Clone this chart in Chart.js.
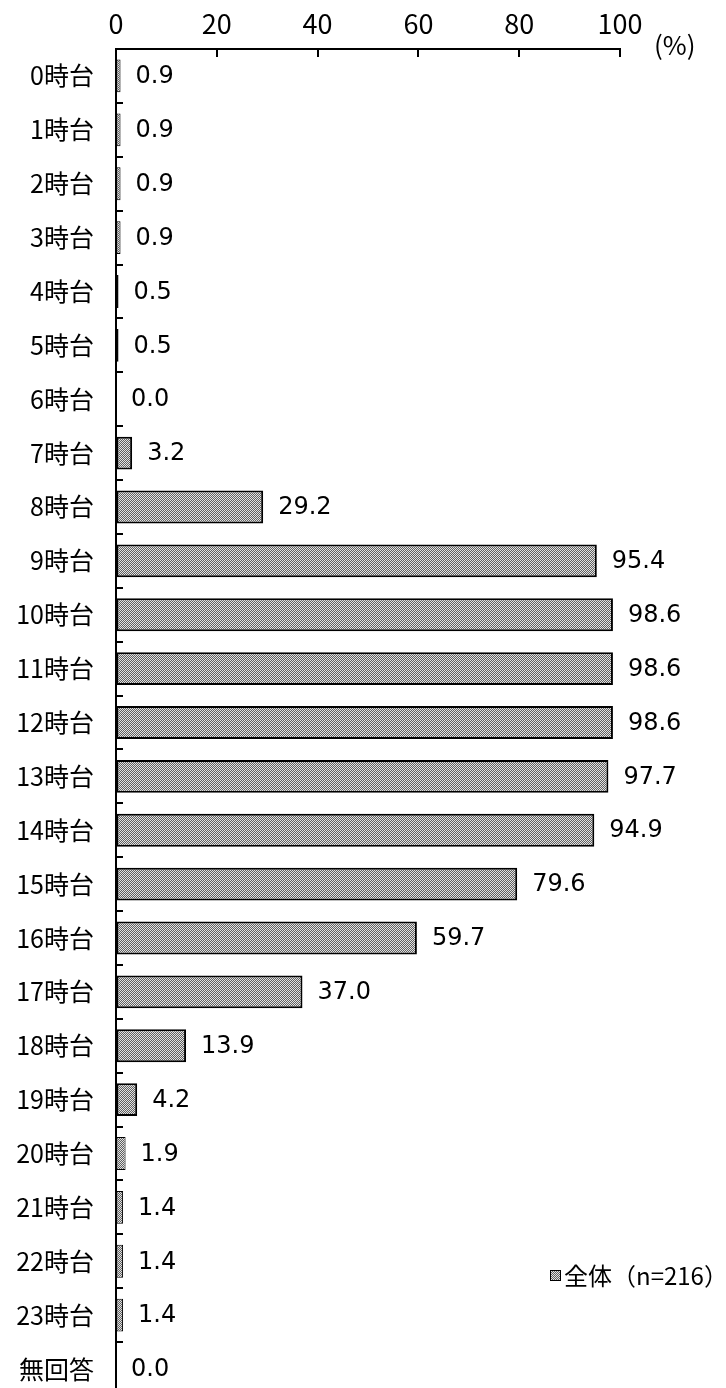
<!DOCTYPE html>
<html lang="ja">
<head>
<meta charset="utf-8">
<title>時間帯別 利用割合</title>
<script src="https://cdn.jsdelivr.net/npm/chart.js@4/dist/chart.umd.min.js"></script>
<style>
  html, body { margin: 0; padding: 0; background: #fff; overflow: hidden; }
  #wrap { width: 726px; height: 1396px; }
</style>
</head>
<body>
<div id="wrap"><canvas id="hourChart" width="726" height="1396"></canvas></div>
<script>
// categories (rows, top to bottom)
const hourLabels = ['0時台', '1時台', '2時台', '3時台', '4時台', '5時台', '6時台', '7時台',
  '8時台', '9時台', '10時台', '11時台', '12時台', '13時台', '14時台', '15時台', '16時台',
  '17時台', '18時台', '19時台', '20時台', '21時台', '22時台', '23時台', '無回答'];
// percentages
const totalValues = [0.9, 0.9, 0.9, 0.9, 0.5, 0.5, 0.0, 3.2, 29.2, 95.4, 98.6, 98.6, 98.6,
  97.7, 94.9, 79.6, 59.7, 37.0, 13.9, 4.2, 1.9, 1.4, 1.4, 1.4, 0.0];
const xTicks = [0, 20, 40, 60, 80, 100];
const seriesName = '全体（n=216）';
const unitLabel = '(%)';

const CJK = '"Noto Sans CJK JP", "Noto Sans", sans-serif';
const NUM = '"DejaVu Sans", Verdana, sans-serif';

// fine dotted fill like the printed hatch
function makeDots() {
    const c = document.createElement('canvas');
    c.width = 2; c.height = 2;
    const g = c.getContext('2d');
    g.fillStyle = '#606060'; g.fillRect(0, 0, 2, 2);
    g.fillStyle = '#e2e2e2'; g.fillRect(0, 0, 1, 1); g.fillRect(1, 1, 1, 1);
    return g.createPattern(c, 'repeat');
}
const dots = makeDots();

// short tick marks that point into the plot, plus the unit and legend
const extras = {
    id: 'extras',
    afterDraw(chart) {
        const ctx = chart.ctx;
        const x = chart.scales.x, y = chart.scales.y;
        const top = chart.chartArea.top, left = chart.chartArea.left;
        ctx.save();
        ctx.strokeStyle = '#000';
        ctx.lineWidth = 2;
        ctx.beginPath();
        xTicks.forEach(v => {
            const px = Math.round(x.getPixelForValue(v));
            ctx.moveTo(px, top); ctx.lineTo(px, top + 8);
        });
        for (let i = 1; i < hourLabels.length; i++) {
            const py = Math.round((y.getPixelForValue(i - 1) + y.getPixelForValue(i)) / 2);
            ctx.moveTo(left, py); ctx.lineTo(left + 7, py);
        }
        ctx.stroke();

        // unit
        ctx.fillStyle = '#000';
        ctx.font = '26px ' + CJK;
        ctx.textAlign = 'left';
        ctx.textBaseline = 'middle';
        ctx.fillText(unitLabel, 654, 45);

        // legend
        ctx.fillStyle = dots;
        ctx.fillRect(551, 1271, 9, 9);
        ctx.strokeStyle = '#000';
        ctx.lineWidth = 1;
        ctx.strokeRect(550.5, 1270.5, 10, 10);
        ctx.fillStyle = '#000';
        ctx.font = '24px ' + CJK;
        ctx.fillText(seriesName, 564, 1276);
        ctx.restore();
    },
    afterDatasetsDraw(chart) {
        const ctx = chart.ctx;
        const meta = chart.getDatasetMeta(0);
        ctx.save();
        ctx.fillStyle = '#000';
        ctx.font = '24px ' + NUM;
        ctx.textAlign = 'left';
        ctx.textBaseline = 'middle';
        meta.data.forEach((bar, i) => {
            ctx.fillText(totalValues[i].toFixed(1), bar.x + 15, bar.y + 1);
        });
        ctx.restore();
    }
};

const ctx = document.getElementById('hourChart').getContext('2d');
new Chart(ctx, {
    type: 'bar',
    data: {
        labels: hourLabels,
        datasets: [{
            label: seriesName,
            data: totalValues,
            backgroundColor: dots,
            borderColor: '#000',
            // thin bars keep some of their fill visible
            borderWidth: c => (c.raw !== undefined && c.raw < 2 ? 1 : 2),
            borderSkipped: false,
            categoryPercentage: 1,
            barPercentage: 0.61
        }]
    },
    options: {
        indexAxis: 'y',
        responsive: false,
        animation: false,
        events: [],
        layout: { padding: { left: 0, right: 106, top: 0, bottom: 0 } },
        plugins: {
            legend: { display: false },
            tooltip: { enabled: false }
        },
        scales: {
            x: {
                position: 'top',
                min: 0,
                max: 100,
                afterBuildTicks: s => { s.ticks = xTicks.map(v => ({ value: v })); },
                afterFit: s => { s.height = 49; },
                grid: { display: true, drawOnChartArea: false, drawTicks: false },
                border: { color: '#000', width: 2 },
                ticks: {
                    color: '#000',
                    padding: 9,
                    maxRotation: 0,
                    font: { family: CJK, size: 27 }
                }
            },
            y: {
                afterFit: s => { s.width = 116; s.paddingTop = 0; s.paddingBottom = 0; },
                grid: { display: true, drawOnChartArea: false, drawTicks: false },
                border: { color: '#000', width: 2 },
                ticks: {
                    color: '#000',
                    padding: 22,
                    autoSkip: false,
                    font: { family: CJK, size: 25 }
                }
            }
        }
    },
    plugins: [extras]
});
</script>
</body>
</html>
